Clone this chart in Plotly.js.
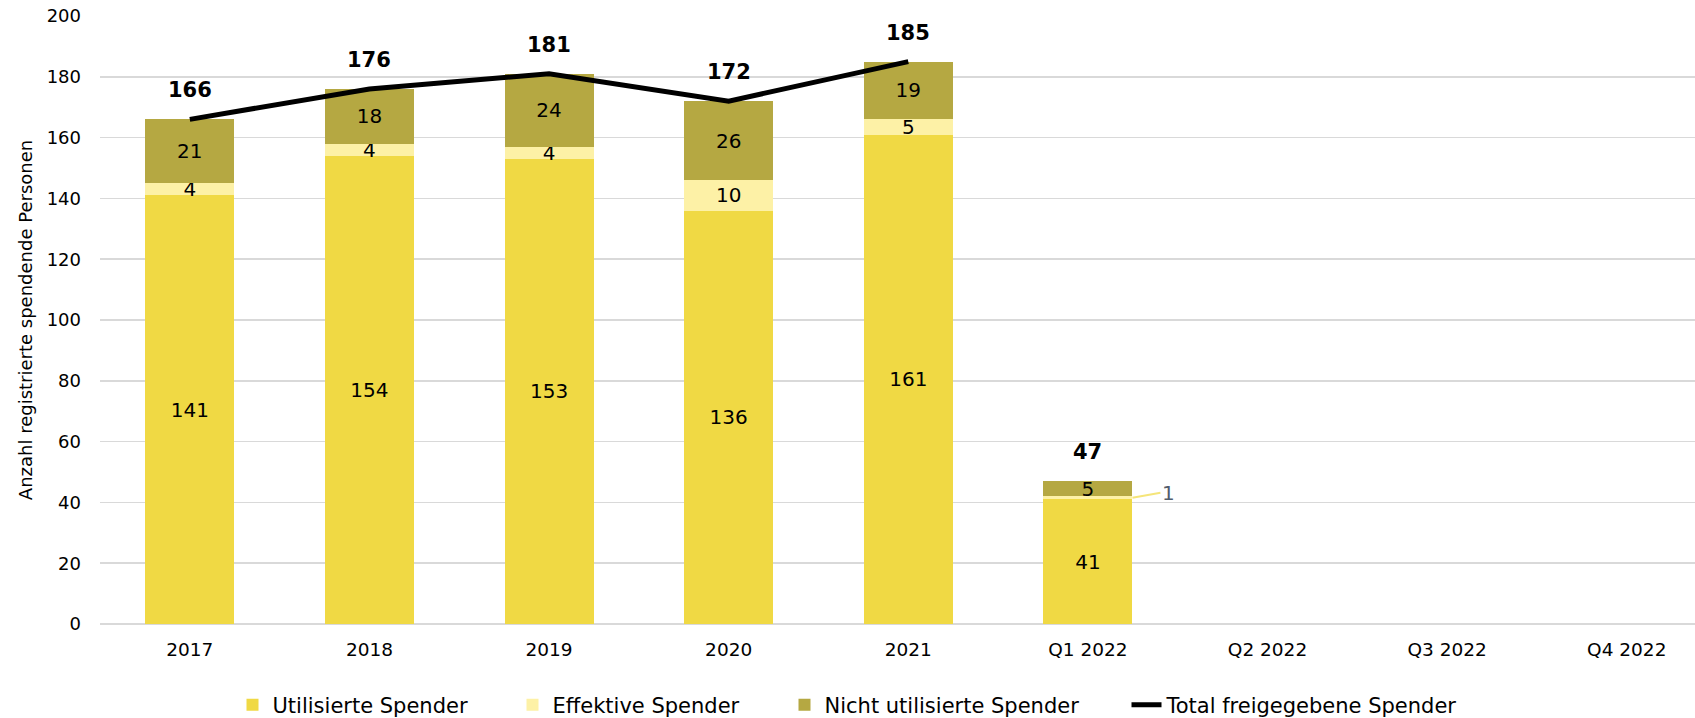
<!DOCTYPE html>
<html>
<head>
<meta charset="utf-8">
<script src="https://cdn.plot.ly/plotly-3.0.1.min.js"></script>
<style>html,body{margin:0;padding:0;background:#fff;}#chart{width:1695px;height:718px;}</style>
</head>
<body>
<div id="chart"></div>
<script>
const categories = ['2017','2018','2019','2020','2021','Q1 2022','Q2 2022','Q3 2022','Q4 2022'];
const utilisierte = [141,154,153,136,161,41,null,null,null];
const effektive = [4,4,4,10,5,1,null,null,null];
const nichtUtilisierte = [21,18,24,26,19,5,null,null,null];
const totalLine = [166,176,181,172,185,null,null,null,null];
const yTicks = [0,20,40,60,80,100,120,140,160,180,200];

const FONT = 'DejaVu Sans, Verdana, sans-serif';

function labelText(arr){ return arr.map(v => (v === null || v < 2) ? '' : String(v)); }

const barCommon = {
  type:'bar', x: categories, textposition:'inside', insidetextanchor:'middle',
  constraintext:'none', textangle:0, hoverinfo:'skip',
  textfont:{family:FONT, size:20, color:'#000'}
};

const traces = [
  Object.assign({}, barCommon, {name:'Utilisierte Spender', legendwidth:235, y: utilisierte, text: labelText(utilisierte), marker:{color:'#F0D944'}}),
  Object.assign({}, barCommon, {name:'Effektive Spender', legendwidth:227, y: effektive, text: labelText(effektive), marker:{color:'#FDF1A6'}}),
  Object.assign({}, barCommon, {name:'Nicht utilisierte Spender', legendwidth:297, y: nichtUtilisierte, text: labelText(nichtUtilisierte), marker:{color:'#B5A842'}}),
  {type:'scatter', mode:'lines', name:'Total freigegebene Spender', x: categories, y: totalLine,
   line:{color:'#000', width:5}, connectgaps:false, hoverinfo:'skip'}
];

const annotations = [];
categories.forEach((c,i) => {
  const parts = [utilisierte[i], effektive[i], nichtUtilisierte[i]];
  if (parts[0] === null) return;
  const sum = parts.reduce((a,b)=>a+b,0);
  annotations.push({x:i, y:sum, xref:'x', yref:'y', text:'<b>'+sum+'</b>', showarrow:false,
    yshift:29, yanchor:'middle', font:{family:FONT, size:21, color:'#000'}});
  if (effektive[i] < 2) {
    annotations.push({x:i + 0.248, y:utilisierte[i] + effektive[i]/2, xref:'x', yref:'y',
      text:String(effektive[i]), showarrow:true, arrowhead:0, arrowwidth:2, arrowcolor:'#F5E57A',
      ax:28, ay:-5, xanchor:'left', font:{family:FONT, size:20, color:'#525C6C'}});
  }
});

const layout = {
  width:1695, height:718,
  margin:{l:100, r:0, t:16, b:94},
  paper_bgcolor:'#fff', plot_bgcolor:'#fff',
  barmode:'stack', bargap:0.504,
  font:{family:FONT, size:18, color:'#000'},
  xaxis:{type:'category', categoryarray:categories, range:[-0.5, 8.38], showgrid:false,
    showline:false, zeroline:false, ticks:'', ticklabelstandoff:12,
    tickfont:{family:FONT, size:18.5, color:'#000'}},
  yaxis:{range:[0,200], tickvals:yTicks, showgrid:true, gridcolor:'#D9D9D9', gridwidth:1.5,
    zeroline:true, zerolinecolor:'#D9D9D9', zerolinewidth:1.5, showline:false, ticks:'',
    ticklabelstandoff:18, tickfont:{family:FONT, size:18, color:'#000'},
    title:{text:'Anzahl registrierte spendende Personen', standoff:9, font:{family:FONT, size:18, color:'#000'}}},
  legend:{orientation:'h', xref:'container', yref:'container', x:0.5, xanchor:'center',
    y:0.018, yanchor:'middle', font:{family:FONT, size:21, color:'#000'}, traceorder:'normal'},
  annotations: annotations,
  showlegend:true
};

Plotly.newPlot('chart', traces, layout, {staticPlot:true, displayModeBar:false});
</script>
</body>
</html>
